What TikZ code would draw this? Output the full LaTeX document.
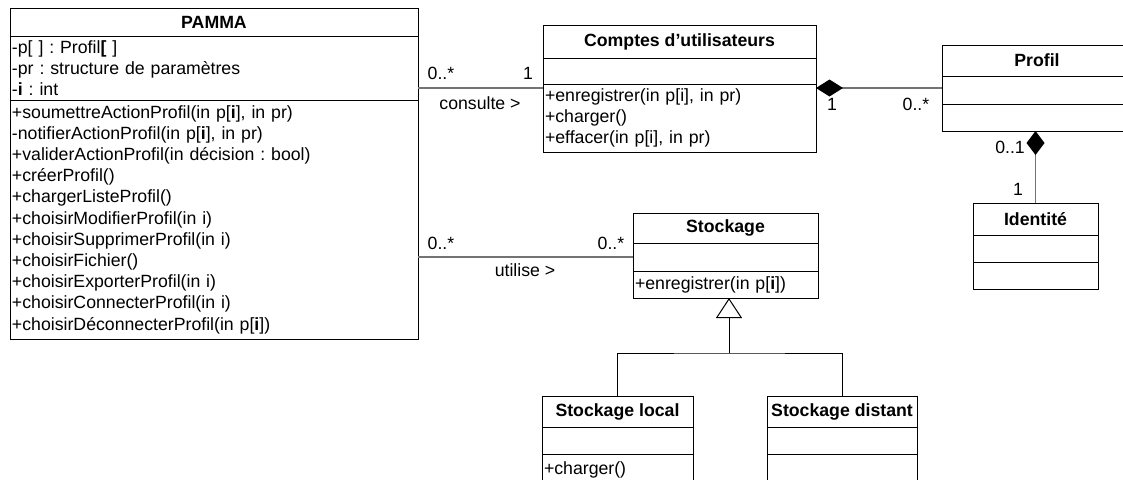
\documentclass[tikz,border=0pt]{standalone}
\usepackage{fontspec}
\setmainfont{Liberation Sans}
\usetikzlibrary{arrows.meta}
\definecolor{assocgray}{RGB}{115,115,115}
\frenchspacing

\begin{document}
\begin{tikzpicture}[
    x=1pt, y=-1pt,
    font=\fontsize{17.7}{21.2}\selectfont,
    every node/.style={inner sep=0pt, outer sep=0pt},
    classhead/.style={draw, line width=1pt, anchor=north west, font=\fontsize{17.7}{21.2}\selectfont\bfseries},
    classpart/.style={draw, line width=1pt, anchor=north west, align=left, inner xsep=2pt},
    assoc/.style={draw=assocgray, line width=1.2pt},
    compo/.style={assoc, {Diamond[#1, color=black, fill=black]}-},
    inherit/.style={line width=1pt, -{Triangle[open, length=20pt, width=26pt]}}
]
\useasboundingbox (0,0) rectangle (1123,479);
\clip (0,0) rectangle (1123,479);

% PAMMA
\node[classhead, minimum width=408pt, minimum height=28pt] (pamma) at (10,8) {PAMMA};
\node[classpart, text width=404pt, minimum height=64pt] (pamma-attr) at (pamma.south west)
    {-p[ ] : Profil\textbf{[} ]\\-pr : structure de paramètres\\-\textbf{i} : int};
\node[classpart, text width=404pt, minimum height=239pt] (pamma-meth) at (pamma-attr.south west)
    {+soumettreActionProfil(in p[\textbf{i}], in pr)\\
     -notifierActionProfil(in p[\textbf{i}], in pr)\\
     +validerActionProfil(in décision : bool)\\
     +créerProfil()\\
     +chargerListeProfil()\\
     +choisirModifierProfil(in i)\\
     +choisirSupprimerProfil(in i)\\
     +choisirFichier()\\
     +choisirExporterProfil(in i)\\
     +choisirConnecterProfil(in i)\\
     +choisirDéconnecterProfil(in p[\textbf{i}])};

% Comptes d'utilisateurs
\node[classhead, minimum width=273pt, minimum height=33pt] (comptes) at (543,25) {Comptes d’utilisateurs};
\node[classpart, text width=269pt, minimum height=26pt] (comptes-attr) at (comptes.south west) {};
\node[classpart, text width=269pt, minimum height=68pt] (comptes-meth) at (comptes-attr.south west)
    {+enregistrer(in p[i], in pr)\\+charger()\\+effacer(in p[i], in pr)};

% Profil
\node[classhead, minimum width=190pt, minimum height=31pt] (profil) at (942,45) {Profil};
\node[classpart, text width=186pt, minimum height=28pt] (profil-attr) at (profil.south west) {};
\node[classpart, text width=186pt, minimum height=27pt] (profil-meth) at (profil-attr.south west) {};

% Identite
\node[classhead, minimum width=125pt, minimum height=32pt] (identite) at (973,203) {Identité};
\node[classpart, text width=121pt, minimum height=27pt] (identite-attr) at (identite.south west) {};
\node[classpart, text width=121pt, minimum height=27pt] (identite-meth) at (identite-attr.south west) {};

% Stockage
\node[classhead, minimum width=185pt, minimum height=30pt] (stockage) at (633,213) {Stockage};
\node[classpart, text width=181pt, minimum height=28pt] (stockage-attr) at (stockage.south west) {};
\node[classpart, text width=181pt, minimum height=27pt] (stockage-meth) at (stockage-attr.south west)
    {+enregistrer(in p[\textbf{i}])};

\node[classhead, minimum width=151pt, minimum height=31pt] (local) at (542,396) {Stockage local};
\node[classpart, text width=147pt, minimum height=27pt] (local-attr) at (local.south west) {};
\node[classpart, text width=147pt, minimum height=32pt] (local-meth) at (local-attr.south west) {+charger()};

\node[classhead, minimum width=150pt, minimum height=31pt] (distant) at (767,396) {Stockage distant};
\node[classpart, text width=146pt, minimum height=27pt] (distant-attr) at (distant.south west) {};
\node[classpart, text width=146pt, minimum height=32pt] (distant-meth) at (distant-attr.south west) {};

% associations
\coordinate (consult-end) at ([yshift=-4pt]comptes-meth.north west);
\draw[assoc] (pamma-attr.east |- consult-end) -- (consult-end);
\draw[compo={length=27pt, width=17pt}] (consult-end -| comptes-meth.east) -- (consult-end -| profil-attr.west);
\draw[compo={length=24pt, width=18pt}] (profil-meth.south -| identite.north) -- (identite.north);
\draw[assoc] (pamma-meth.east |- stockage-attr.west) -- (stockage-attr.west);

% generalisation
\coordinate (fork) at (729,353);
\draw[inherit] (fork) -- (fork |- stockage-meth.south);
\draw[line width=1pt] (local.north) |- (fork) -| (distant.north);

% multiplicities and labels
\node (m-consult-pamma) at (441,73) {0..*};
\node (m-consult-comptes) at (528,73) {1};
\node (consult-lbl) at (480,103) {consulte >};
\node (m-compo-comptes) at (832,104) {1};
\node (m-compo-profil) at (916,104) {0..*};
\node (m-ident-profil) at (1010,147) {0..1};
\node (m-ident) at (1018,189) {1};
\node (m-util-pamma) at (441,243) {0..*};
\node (m-util-stock) at (611,243) {0..*};
\node (util-lbl) at (525,270) {utilise >};
\end{tikzpicture}
\end{document}
